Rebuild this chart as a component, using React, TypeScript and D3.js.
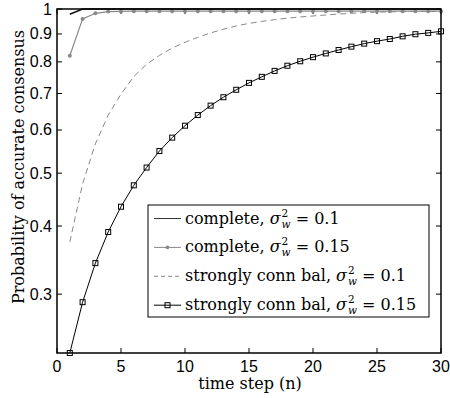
import React from "react";
import * as d3 from "d3";

const steps = d3.range(1, 31);
const completeLow = [0.978, 1, 1, 1, 1, 1, 1, 1, 1, 1, 1, 1, 1, 1, 1, 1, 1, 1, 1, 1, 1, 1, 1, 1, 1, 1, 1, 1, 1, 1];
const completeHigh = [0.821, 0.959, 0.982, 0.989, 0.99, 0.991, 0.991, 0.991, 0.991, 0.991, 0.991, 0.991, 0.991, 0.991, 0.991, 0.991, 0.991, 0.991, 0.991, 0.991, 0.991, 0.991, 0.991, 0.991, 0.991, 0.991, 0.991, 0.991, 0.991, 0.991];
const strongLow = [0.374, 0.478, 0.566, 0.639, 0.698, 0.752, 0.792, 0.822, 0.848, 0.869, 0.887, 0.904, 0.918, 0.931, 0.941, 0.949, 0.956, 0.962, 0.967, 0.971, 0.975, 0.979, 0.982, 0.985, 0.987, 0.988, 0.989, 0.99, 0.99, 0.991];
const strongHigh = [0.234, 0.29, 0.342, 0.39, 0.434, 0.475, 0.512, 0.549, 0.581, 0.611, 0.639, 0.665, 0.689, 0.711, 0.732, 0.751, 0.77, 0.787, 0.802, 0.816, 0.829, 0.841, 0.853, 0.864, 0.873, 0.881, 0.891, 0.899, 0.904, 0.91];

const yTicks = [0.3, 0.4, 0.5, 0.6, 0.7, 0.8, 0.9, 1];
const xTicks = [0, 5, 10, 15, 20, 25, 30];
const legendLabels = ["complete, ", "complete, ", "strongly conn bal, ", "strongly conn bal, "];
const legendValues = ["0.1", "0.15", "0.1", "0.15"];

const L = 57, R = 441, T = 9, B = 353;

function measure(text: string, font: string): number {
  if (typeof document === "undefined") return text.length * 8;
  const c = document.createElement("canvas");
  const ctx = c.getContext("2d");
  if (!ctx) return text.length * 8;
  ctx.font = font;
  return ctx.measureText(text).width;
}

export default function App() {
  const x = d3.scaleLinear().domain([0, 30]).range([L, R]);
  const y = d3.scaleLog().domain([0.234, 1]).range([B, T]);
  const line = (vals: number[]) =>
    d3.line<number>().x((_, i) => x(steps[i])).y((v) => y(v))(vals) || "";

  const sans = "Liberation Sans, Arial, sans-serif";
  const serif = "DejaVu Serif, serif";
  const gray = "#888888";
  const tick = 5;

  const legX = 148, legY = 205, legW = 281, legH = 112;
  const rowY = (i: number) => 218.5 + i * 28.9;
  const lx0 = 154, lx1 = 181, tx = 185;

  return (
    <svg width={450} height={398} style={{ position: "absolute", left: 0, top: 0, background: "#fff" }}>
      <rect x={0} y={0} width={450} height={398} fill="#fff" />
      {yTicks.map((t) => (
        <g key={"y" + t}>
          <line x1={L} x2={L + tick} y1={y(t)} y2={y(t)} stroke="#000" strokeWidth={1} />
          <line x1={R} x2={R - tick} y1={y(t)} y2={y(t)} stroke="#000" strokeWidth={1} />
          <text x={52} y={y(t) + 5.5} textAnchor="end" fontFamily={sans} fontSize={16}>{String(t)}</text>
        </g>
      ))}
      {xTicks.map((t) => (
        <g key={"x" + t}>
          <line x1={x(t)} x2={x(t)} y1={B} y2={B - tick} stroke="#000" strokeWidth={1} />
          <line x1={x(t)} x2={x(t)} y1={T} y2={T + tick} stroke="#000" strokeWidth={1} />
          <text x={x(t)} y={372} textAnchor="middle" fontFamily={sans} fontSize={16}>{String(t)}</text>
        </g>
      ))}
      <path d={line(strongLow)} fill="none" stroke={gray} strokeWidth={1} strokeDasharray="6,4" />
      <path d={line(completeHigh)} fill="none" stroke={gray} strokeWidth={1.2} />
      {completeHigh.map((v, i) => (
        <circle key={"c" + i} cx={x(steps[i])} cy={y(v)} r={2} fill={gray} />
      ))}
      <path d={line(strongHigh)} fill="none" stroke="#000" strokeWidth={1} />
      {strongHigh.map((v, i) => (
        <rect key={"s" + i} x={x(steps[i]) - 2.5} y={y(v) - 2.5} width={5} height={5} fill="none" stroke="#000" strokeWidth={1} />
      ))}
      <path d={line(completeLow)} fill="none" stroke="#111" strokeWidth={1.4} />
      <rect x={L} y={T} width={R - L} height={B - T} fill="none" stroke="#000" strokeWidth={1.5} />
      <text x={250} y={389} textAnchor="middle" fontFamily={serif} fontSize={16}>time step (n)</text>
      <text transform="translate(24,167) rotate(-90)" textAnchor="middle" fontFamily={serif} fontSize={16}>
        Probability of accurate consensus
      </text>
      <rect x={legX} y={legY} width={legW} height={legH} fill="#fff" stroke="#000" strokeWidth={1} />
      {legendLabels.map((lab, i) => {
        const ry = rowY(i);
        const stroke = i === 0 ? "#333" : i === 3 ? "#000" : gray;
        const w1 = measure(lab, "16px DejaVu Serif");
        const wSig = measure("σ", "italic 16px DejaVu Serif");
        const wSp = measure(" ", "16px DejaVu Serif");
        const xs = tx + w1;
        const xScript = xs + wSig + 1;
        const xRest = xScript + 9 + wSp;
        return (
          <g key={"l" + i}>
            <line x1={lx0} x2={lx1} y1={ry} y2={ry} stroke={stroke} strokeWidth={1} strokeDasharray={i === 2 ? "4,3" : undefined} />
            {i === 1 && <circle cx={(lx0 + lx1) / 2} cy={ry} r={1.8} fill={gray} />}
            {i === 3 && <rect x={(lx0 + lx1) / 2 - 2.5} y={ry - 2.5} width={5} height={5} fill="none" stroke="#000" />}
            <text x={tx} y={ry + 5} fontFamily={serif} fontSize={16}>{lab}</text>
            <text x={xs} y={ry + 5} fontFamily={serif} fontSize={16} fontStyle="italic">σ</text>
            <text x={xScript} y={ry - 2} fontFamily={serif} fontSize={10.5}>2</text>
            <text x={xScript} y={ry + 9} fontFamily={serif} fontSize={10.5} fontStyle="italic">w</text>
            <text x={xRest} y={ry + 5} fontFamily={serif} fontSize={16}>{"= " + legendValues[i]}</text>
          </g>
        );
      })}
    </svg>
  );
}
